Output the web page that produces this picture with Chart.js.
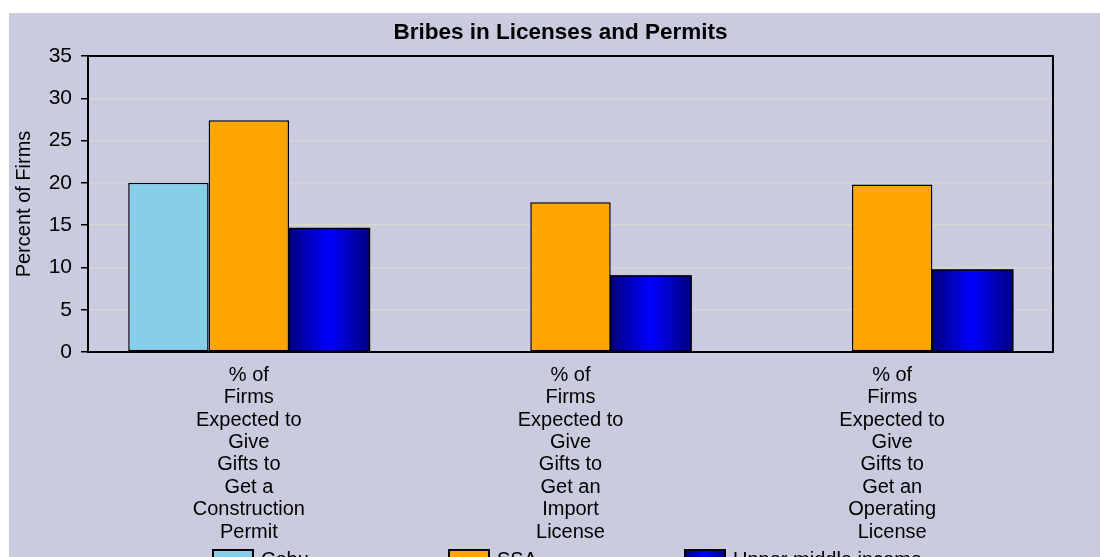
<!DOCTYPE html>
<html>
<head>
<meta charset="utf-8">
<script src="https://cdn.jsdelivr.net/npm/chart.js@4.4.1/dist/chart.umd.min.js"></script>
<style>
  body { margin: 0; background: #fff; width: 1100px; height: 557px; overflow: hidden; }
  #wrap { position: absolute; left: 9px; top: 13px; width: 1091px; height: 544px; background: #cacbde; }
</style>
</head>
<body>
<div id="wrap"><canvas id="chart"></canvas></div>
<script>
// data
const chartTitle = 'Bribes in Licenses and Permits';
const categories = [
  ['% of', 'Firms', 'Expected to', 'Give', 'Gifts to', 'Get a', 'Construction', 'Permit'],
  ['% of', 'Firms', 'Expected to', 'Give', 'Gifts to', 'Get an', 'Import', 'License'],
  ['% of', 'Firms', 'Expected to', 'Give', 'Gifts to', 'Get an', 'Operating', 'License']
];
const seriesNames = ['Cebu', 'SSA', 'Upper middle income'];
const cebu = [20.0, null, null];
const ssa = [27.4, 17.7, 19.8];
const upperMiddle = [14.6, 9.0, 9.7];
const yMin = 0, yMax = 35, yStep = 5;

const FONT = "'Liberation Sans', Arial, sans-serif";

function blueGrad(ctx, left, right) {
  const g = ctx.createLinearGradient(left, 0, right, 0);
  g.addColorStop(0, '#000080');
  g.addColorStop(0.5, '#0000ff');
  g.addColorStop(1, '#000080');
  return g;
}

// gradient bars, plot frame, title and the (cut off) legend
const decor = {
  id: 'decor',
  afterDatasetsDraw(chart) {
    const ctx = chart.ctx;
    ctx.save();
    chart.getDatasetMeta(2).data.forEach((bar, i) => {
      if (upperMiddle[i] == null) return;
      const p = bar.getProps(['x', 'y', 'base', 'width'], true);
      const l = p.x - p.width / 2;
      ctx.fillStyle = blueGrad(ctx, l, l + p.width);
      ctx.fillRect(l, p.y, p.width, p.base - p.y);
      ctx.lineWidth = 1.5;
      ctx.strokeStyle = '#000';
      ctx.strokeRect(l, p.y, p.width, p.base - p.y);
    });
    const a = chart.chartArea;
    ctx.lineWidth = 2;
    ctx.strokeStyle = '#000';
    ctx.beginPath();
    ctx.moveTo(a.left, a.top);
    ctx.lineTo(a.right, a.top);
    ctx.lineTo(a.right, a.bottom);
    ctx.stroke();
    ctx.restore();
  },
  afterDraw(chart) {
    const ctx = chart.ctx;
    const a = chart.chartArea;
    ctx.save();
    ctx.fillStyle = '#000';
    ctx.font = 'bold 22.5px ' + FONT;
    ctx.textAlign = 'center';
    ctx.textBaseline = 'middle';
    ctx.fillText(chartTitle, (a.left + a.right) / 2 - 10, 20);

    ctx.font = '20px ' + FONT;
    ctx.textAlign = 'left';
    chart.data.datasets.forEach((ds, i) => {
      const x0 = 204 + i * 236, y0 = 537;
      ctx.fillStyle = i === 2 ? blueGrad(ctx, x0, x0 + 40) : ds.backgroundColor;
      ctx.fillRect(x0, y0, 40, 18);
      ctx.lineWidth = 2;
      ctx.strokeStyle = '#000';
      ctx.strokeRect(x0, y0, 40, 18);
      ctx.fillStyle = '#000';
      ctx.fillText(ds.label, x0 + 48, y0 + 10);
    });
    ctx.restore();
  }
};

const barStyle = { borderColor: '#000', borderWidth: 1.5, borderSkipped: false,
                   categoryPercentage: 0.75, barPercentage: 1 };

new Chart(document.getElementById('chart'), {
  type: 'bar',
  data: {
    labels: categories,
    datasets: [
      { label: seriesNames[0], data: cebu, backgroundColor: '#87ceeb', ...barStyle },
      { label: seriesNames[1], data: ssa, backgroundColor: '#ffa500', ...barStyle },
      { label: seriesNames[2], data: upperMiddle, backgroundColor: '#0000cc', ...barStyle }
    ]
  },
  options: {
    responsive: true,
    maintainAspectRatio: false,
    animation: false,
    layout: { padding: { left: 0, right: 47, top: 43, bottom: 0 } },
    plugins: {
      legend: { display: false },
      tooltip: { enabled: false },
      title: { display: false }
    },
    scales: {
      x: {
        grid: { display: false, drawTicks: false },
        border: { color: '#000', width: 2 },
        ticks: { color: '#000', maxRotation: 0, autoSkip: false, padding: 12,
                 font: { family: FONT, size: 20, lineHeight: 1.12 } },
        afterFit: s => { s.height = 205; }
      },
      y: {
        min: yMin, max: yMax,
        grid: { color: '#d8d8cf', lineWidth: 1.5, tickColor: '#000', tickLength: 7 },
        border: { color: '#000', width: 2 },
        ticks: { stepSize: yStep, color: '#000', padding: 9,
                 font: { family: FONT, size: 21 } },
        title: { display: true, text: 'Percent of Firms', color: '#000',
                 font: { family: FONT, size: 20 }, padding: { top: 3, bottom: 0 } },
        afterFit: s => { s.width = 79; }
      }
    }
  },
  plugins: [decor]
});
</script>
</body>
</html>
